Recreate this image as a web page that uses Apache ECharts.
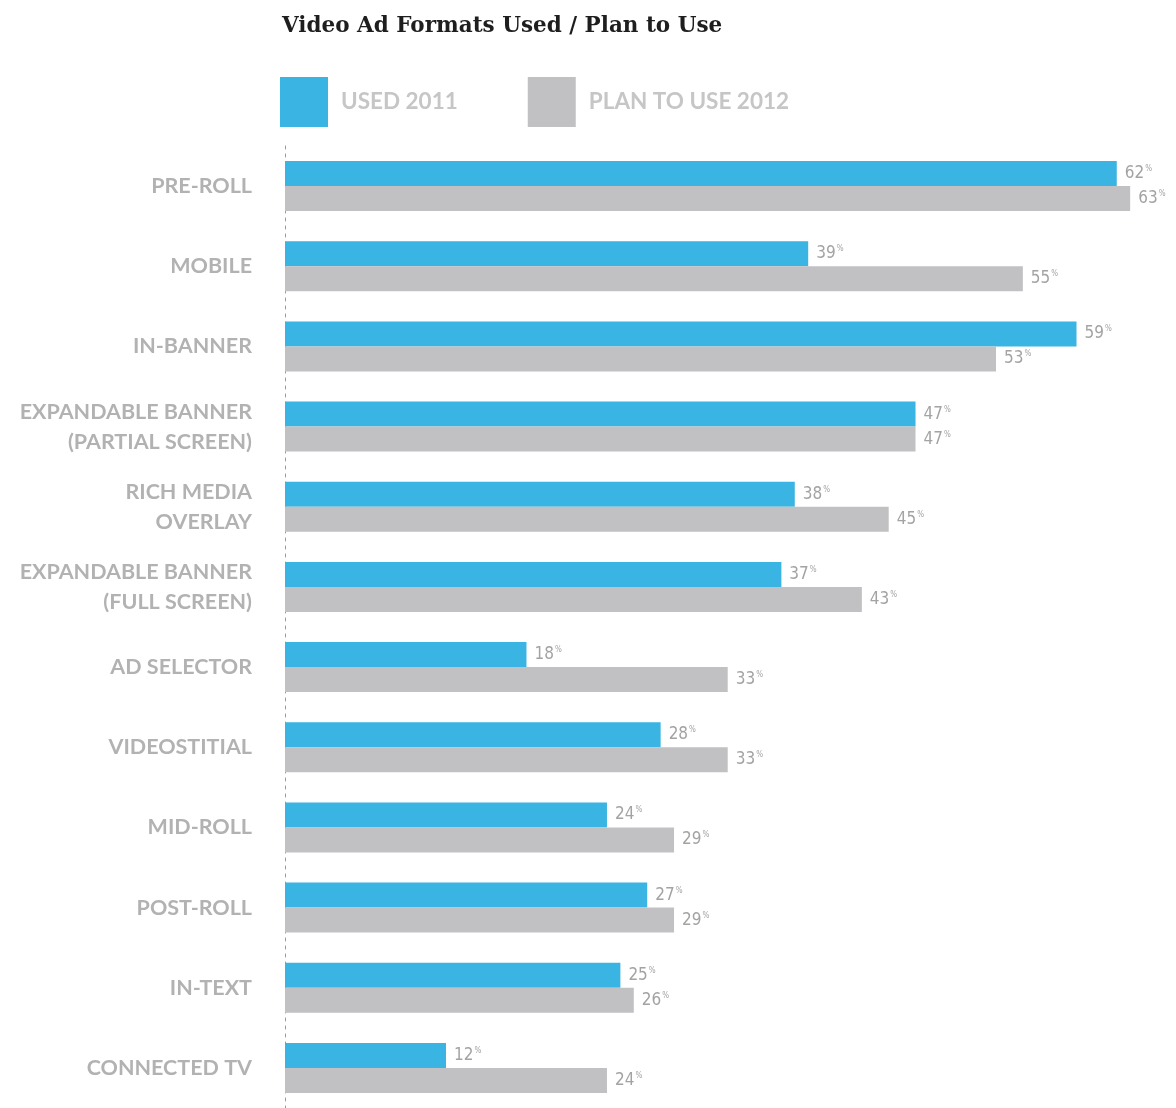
<!DOCTYPE html>
<html>
<head>
<meta charset="utf-8">
<script src="https://cdn.jsdelivr.net/npm/echarts@6/dist/echarts.min.js"></script>
<style>
html,body{margin:0;padding:0;background:#fff;}
#chart{width:1176px;height:1108px;}
</style>
</head>
<body>
<div id="chart"></div>
<script>
const categories = [
  "PRE-ROLL", "MOBILE", "IN-BANNER", "EXPANDABLE BANNER\n(PARTIAL SCREEN)",
  "RICH MEDIA\nOVERLAY", "EXPANDABLE BANNER\n(FULL SCREEN)", "AD SELECTOR",
  "VIDEOSTITIAL", "MID-ROLL", "POST-ROLL", "IN-TEXT", "CONNECTED TV"
];
const used2011 = [62, 39, 59, 47, 38, 37, 18, 28, 24, 27, 25, 12];
const plan2012 = [63, 55, 53, 47, 45, 43, 33, 33, 29, 29, 26, 24];
const seriesNames = ["USED 2011", "PLAN TO USE 2012"];

const chart = echarts.init(document.getElementById('chart'));
const labelFont = '"DejaVu Sans Condensed", "Liberation Sans Narrow", "Roboto Condensed", sans-serif';
const valueLabel = {
  show: true,
  position: 'right',
  distance: 8,
  formatter: p => '{n|' + p.value + '}{p|%}',
  rich: {
    n: { fontFamily: labelFont, fontSize: 17, color: '#a3a3a3', letterSpacing: -1 },
    p: { fontFamily: labelFont, fontSize: 8, color: '#a3a3a3', verticalAlign: 'top', padding: [0, 0, 6, 1] }
  }
};
chart.setOption({
  animation: false,
  title: {
    text: 'Video Ad Formats Used / Plan to Use',
    left: 277, top: 10,
    textStyle: { fontFamily: '"DejaVu Serif", serif', fontWeight: 'bold', fontSize: 21.5, color: '#1e1e1e' }
  },
  legend: {
    left: 275, top: 72,
    itemWidth: 48, itemHeight: 50, itemGap: 70,
    icon: 'rect',
    textStyle: { fontFamily: 'Lato, "Open Sans", sans-serif', fontSize: 22.5, color: '#c6c6c6', fontWeight: 'bold', padding: [3, 0, 0, 8] },
    data: seriesNames
  },
  grid: { left: 285, right: 19, top: 146, bottom: 0, containLabel: false },
  xAxis: {
    type: 'value', min: 0, max: 65,
    show: false
  },
  yAxis: {
    type: 'category', data: categories, inverse: true,
    axisLine: { show: true, lineStyle: { type: [3, 5], color: '#9a9a9a', width: 1 } },
    axisTick: { show: false },
    axisLabel: {
      margin: 33, align: 'right',
      fontFamily: 'Lato, "Open Sans", sans-serif', fontWeight: 'bold', fontSize: 21.5, color: '#b2b2b2', lineHeight: 30
    }
  },
  series: [
    { name: seriesNames[0], type: 'bar', data: used2011, barWidth: 25, barGap: '0%',
      itemStyle: { color: '#3ab4e2' }, label: valueLabel },
    { name: seriesNames[1], type: 'bar', data: plan2012, barWidth: 25, barGap: '0%',
      itemStyle: { color: '#c1c1c3' }, label: valueLabel }
  ]
});
</script>
</body>
</html>
